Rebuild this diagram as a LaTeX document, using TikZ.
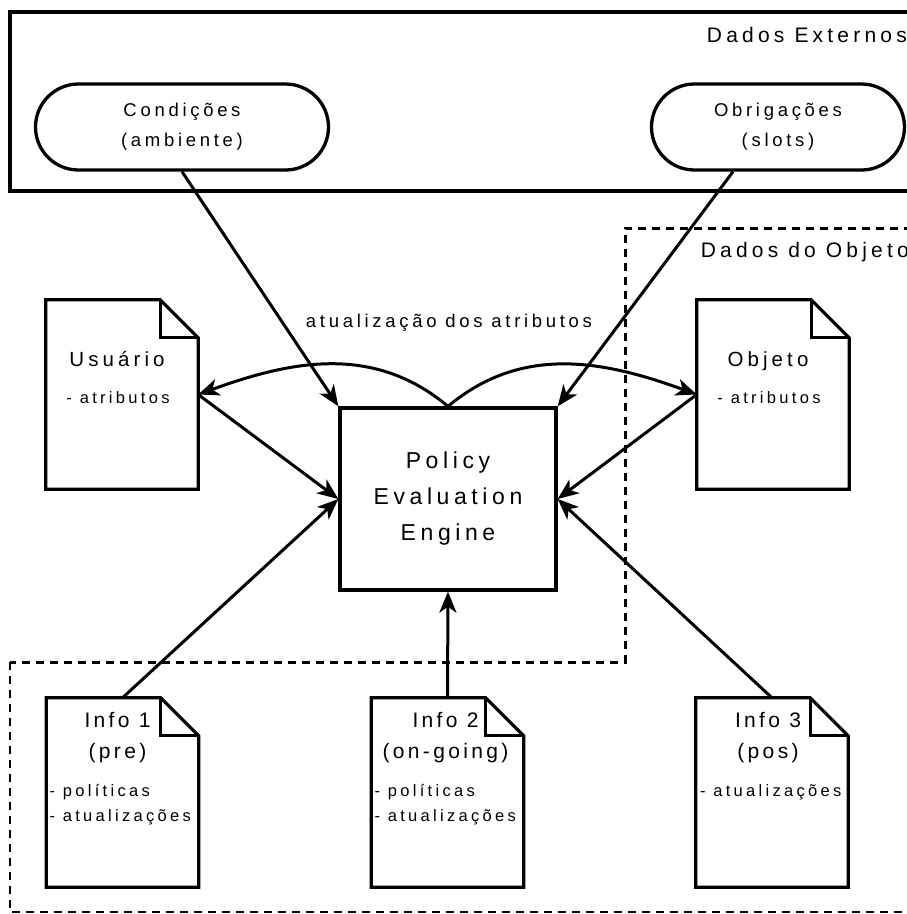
\documentclass[tikz,border=0pt]{standalone}
\usepackage{fontspec}
\setmainfont{Liberation Sans}[LetterSpace=20]
\usetikzlibrary{positioning,arrows.meta}

\begin{document}
\begin{tikzpicture}[x=1pt, y=-1pt, every node/.style={inner sep=0pt},
  boxline/.style={line width=3.3pt},
  flow/.style={line width=3pt, -{Stealth[length=21pt, width=17pt, inset=6pt]}},
  databox/.style={draw, line width=3.3pt, rounded corners=43pt, minimum height=86pt, align=center, font=\fontsize{18.5}{30}\selectfont},
  docnode/.style={minimum width=152pt, minimum height=189pt},
  doctitle/.style={anchor=base, font=\fontsize{20.5}{24}\selectfont},
  infotitle/.style={anchor=base, font=\fontsize{21}{25}\selectfont\addfontfeature{LetterSpace=16}},
  docnote/.style={font=\fontsize{16.5}{20}\selectfont},
  region/.style={anchor=base east, font=\fontsize{21}{25}\selectfont},
  zone/.style={line width=3pt, dash pattern=on 8pt off 6pt}]
\useasboundingbox (0,0) rectangle (907,914);

% dados externos
\draw[boxline] (912,12) -- (10,12) -- (10,191) -- (912,191);
\node[region] (extlabel) at (907,42) {Dados Externos};
\node[databox, minimum width=293pt] (cond) at (182,127) {Condições\\(ambiente)};
\node[databox, minimum width=253pt] (oblig) at (778,127) {Obrigações\\(slots)};

% dados do objeto
\draw[zone] (912,228) -- (625,228) -- (625,662) -- (10,662);
\draw[zone, line width=2pt] (10,662) -- (10,912) -- (912,912);
\node[region] (objlabel) at (909,257) {Dados do Objeto};

\node[draw, boxline, minimum width=216pt, minimum height=182pt, align=center, font=\fontsize{23}{36}\selectfont] (policy) at (448,499) {Policy\\Evaluation\\Engine};

% documentos
\node[docnode] (usuario) at (122,394.5) {};
\node[docnode] (objeto) at (773,394.5) {};
\node[docnode] (info1) at (122.5,792.5) {};
\node[docnode] (info2) at (447.5,792.5) {};
\node[docnode] (info3) at (772,792.5) {};
\foreach \d in {usuario,objeto,info1,info2,info3}{
  \draw[boxline] (\d.north west) -- ([xshift=-38pt]\d.north east) -- ([yshift=-38pt]\d.north east) -- (\d.south east) -- (\d.south west) -- cycle;
  \draw[boxline] ([xshift=-38pt]\d.north east) |- ([yshift=-38pt]\d.north east);
}

\node[doctitle] (usuariotitle) at ([xshift=-5pt, yshift=-67pt]usuario.north) {Usuário};
\node[docnote, anchor=base] (usuarionote) at ([xshift=-4pt, yshift=-104pt]usuario.north) {- atributos};
\node[doctitle] (objetotitle) at ([xshift=-5pt, yshift=-67pt]objeto.north) {Objeto};
\node[docnote, anchor=base] (objetonote) at ([xshift=-4pt, yshift=-104pt]objeto.north) {- atributos};

\node[infotitle] (info1title) at ([xshift=-5pt, yshift=-30pt]info1.north) {Info 1};
\node[infotitle] (info1sub) at ([xshift=-5pt, yshift=-61pt]info1.north) {(pre)};
\node[docnote, anchor=base west] (info1pol) at ([xshift=3pt, yshift=-99pt]info1.north west) {- políticas};
\node[docnote, anchor=base west] (info1atu) at ([xshift=3pt, yshift=-124pt]info1.north west) {- atualizações};

\node[infotitle] (info2title) at ([xshift=-2pt, yshift=-30pt]info2.north) {Info 2};
\node[infotitle] (info2sub) at ([xshift=-2pt, yshift=-61pt]info2.north) {(on-going)};
\node[docnote, anchor=base west] (info2pol) at ([xshift=3pt, yshift=-99pt]info2.north west) {- políticas};
\node[docnote, anchor=base west] (info2atu) at ([xshift=3pt, yshift=-124pt]info2.north west) {- atualizações};

\node[infotitle] (info3title) at ([xshift=-4pt, yshift=-30pt]info3.north) {Info 3};
\node[infotitle] (info3sub) at ([xshift=-4pt, yshift=-61pt]info3.north) {(pos)};
\node[docnote, anchor=base west] (info3atu) at ([xshift=4pt, yshift=-99pt]info3.north west) {- atualizações};

\node[anchor=base, font=\fontsize{18.5}{22}\selectfont] (updlabel) at (449,327) {atualização dos atributos};

% ligacoes
\draw[flow] (cond.south) -- (policy.north west);
\draw[flow] ([xshift=-45pt]oblig.south) -- (policy.north east);
\draw[flow] (usuario.east) -- (policy.west);
\draw[flow] (info1.north) -- (policy.west);
\draw[flow] (objeto.west) -- (policy.east);
\draw[flow] (info3.north) -- (policy.east);
\draw[flow] (info2.north) -- (policy.south);
\draw[flow] (policy.north) to[out=140, in=20] (usuario.east);
\draw[flow] (policy.north) to[out=40, in=160] (objeto.west);
\end{tikzpicture}
\end{document}
